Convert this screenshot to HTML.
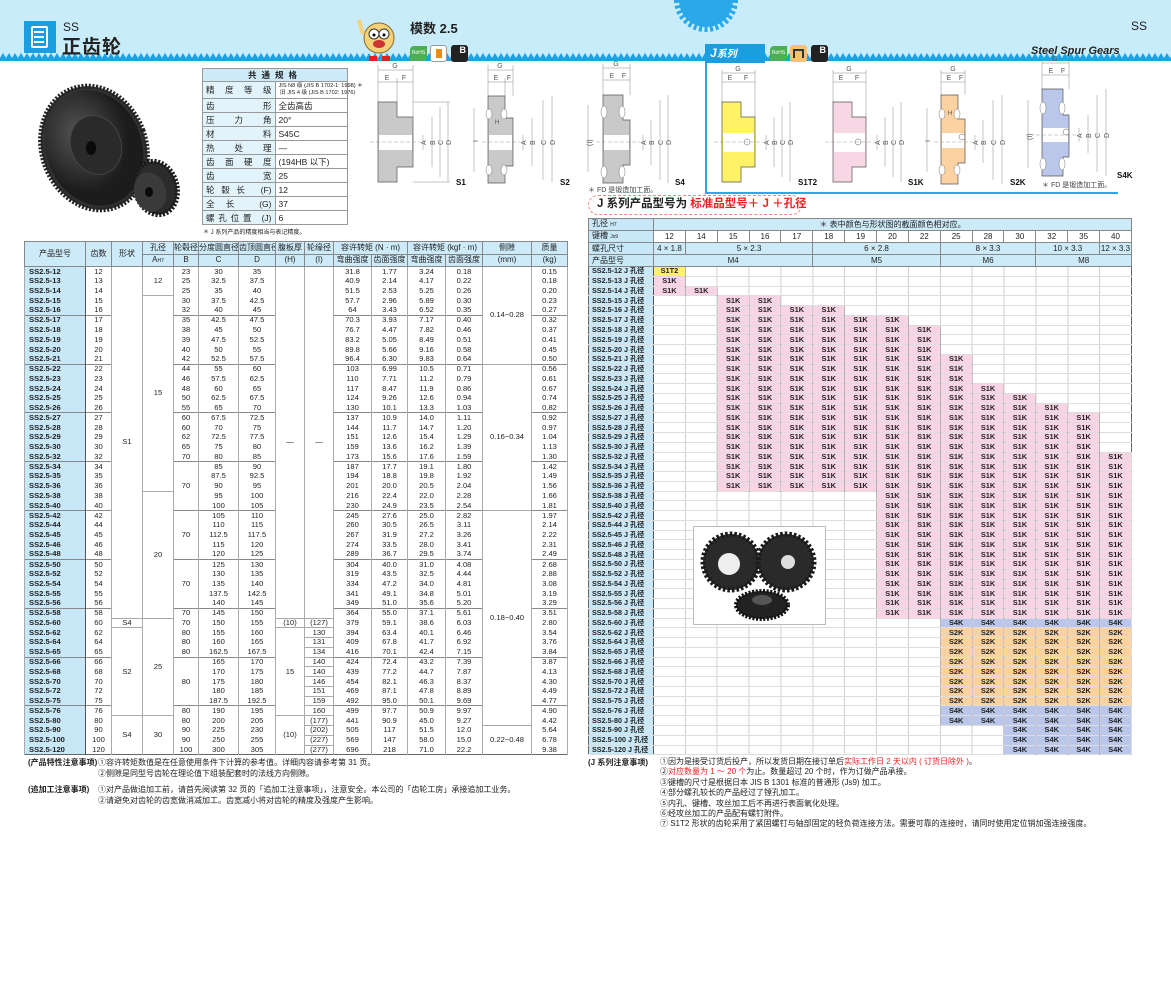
<!DOCTYPE html>
<html><head><meta charset="utf-8">
<style>
*{margin:0;padding:0;box-sizing:border-box}
body{width:1171px;height:1000px;position:relative;background:#fff;font-family:"Liberation Sans","Noto Sans CJK SC",sans-serif;color:#222;overflow:hidden}
.a{position:absolute;white-space:nowrap}
table{border-collapse:collapse;table-layout:fixed;position:absolute}
.lt{left:24px;top:241px;width:543px;font-size:7.6px;border:1.5px solid #666}
.lt td{padding:0;text-align:center;line-height:8px;border-left:1px solid #aaa;border-right:1px solid #aaa;height:9.78px;overflow:hidden;white-space:nowrap}
.lt thead td{background:#cdeaf8;border:1px solid #888;font-size:8px;height:12.5px}
.lt td.m{background:#c8e8f8;font-weight:bold;text-align:left;padding-left:4px;border-right:1.5px solid #555}
.lt tr.g td{border-top:1px solid #888}
.lt td.bt{border-top:1px solid #aaa}
.lt td.bb{border-bottom:1px solid #aaa}
.rt{left:588px;top:218px;width:543px;font-size:7.4px;border:1.5px solid #666}
.rt td,.rt th{padding:0;text-align:center;line-height:8px;height:9.78px;overflow:hidden;white-space:nowrap;border-bottom:1px solid #ddd}
.rt th{background:#c8e8f8;font-weight:bold;text-align:left;padding-left:3px;border-right:1.5px solid #555;font-size:7.2px}
.rt thead td,.rt thead th{height:12px;border:1px solid #888;font-size:8px}
.rt thead th{font-weight:normal}
.rt thead td.hb{background:#cdeaf8}
.rt tr.g td,.rt tr.g th{border-top:1.5px solid #777}
.p,.y,.o,.b{font-weight:bold;border:1px solid rgba(0,0,0,.13)!important}
.p{background:#f8d4e4}.y{background:#fff266}.o{background:#fcd2a0}.b{background:#bac7ea}
.sp{left:202px;top:68px;width:146px;font-size:8.5px;border:1.5px solid #666}
.sp td{border:1px solid #999;height:14px;padding:0 3px;white-space:nowrap}
.sp td.l{background:#e3f3fb;text-align:justify;text-align-last:justify;width:54px}
.n{font-size:8px;line-height:11px}
</style></head><body>

<div class="a" style="left:0;top:0;width:1171px;height:58px;background:#c9ecfb"></div>
<svg class="a" style="left:0;top:52px" width="1171" height="12">
<defs><pattern id="zz" width="6" height="6" patternUnits="userSpaceOnUse"><polygon points="0,6 3,1 6,6" fill="#1aa3e6"/></pattern></defs>
<rect x="0" y="0" width="1171" height="6" fill="url(#zz)"/><rect x="0" y="6" width="1171" height="3" fill="#1aa3e6"/></svg>
<svg class="a" style="left:664px;top:0" width="84" height="34"><circle cx="42" cy="0" r="27" fill="#2aa8ea"/><circle cx="42" cy="0" r="29" fill="none" stroke="#2aa8ea" stroke-width="6" stroke-dasharray="3 2.5"/></svg>
<div class="a" style="left:24px;top:21px;width:32px;height:32px;background:#1a9ee0"></div>
<div class="a" style="left:31px;top:26px;width:17px;height:22px;border:2px solid #fff;border-radius:2px"></div>
<div class="a" style="left:34px;top:31px;width:10px;height:2px;background:#fff;box-shadow:0 5px 0 #fff,0 10px 0 #fff"></div>
<div class="a" style="left:63px;top:20px;font-size:12px">SS</div>
<div class="a" style="left:62px;top:32px;font-size:19px;font-weight:bold;letter-spacing:1px">正齿轮</div>
<div class="a" style="left:410px;top:18px;font-size:13px;font-weight:bold">模数 2.5</div>
<div class="a" style="left:1131px;top:19px;font-size:12px">SS</div>
<svg class="a" style="left:355px;top:16px" width="46" height="48"><circle cx="24" cy="22" r="15" fill="#f5d27a" stroke="#8a6a20"/><circle cx="19" cy="18" r="5" fill="#fff" stroke="#333"/><circle cx="29" cy="18" r="5" fill="#fff" stroke="#333"/><circle cx="19" cy="19" r="1.5"/><circle cx="29" cy="19" r="1.5"/><ellipse cx="24" cy="28" rx="6" ry="4" fill="#c33"/><rect x="14" y="40" width="8" height="5" fill="#d22"/><rect x="27" y="40" width="8" height="5" fill="#d22"/><line x1="8" y1="18" x2="4" y2="4" stroke="#f5d27a" stroke-width="4"/></svg>
<div class="a" style="left:410px;top:46px;width:17px;height:15px;background:#4caf50;border-radius:4px 0 4px 0;font-size:5px;color:#fff;line-height:15px;text-align:center">RoHS</div>
<div class="a" style="left:430px;top:45px;width:17px;height:17px;border:1px solid #999;border-radius:3px;background:#fff"><div style="margin:3px 5px;width:6px;height:9px;background:#f08a20"></div></div>
<div class="a" style="left:451px;top:45px;width:17px;height:17px;background:#222;border-radius:3px;color:#fff;font-size:9px;font-weight:bold;text-align:right;padding-right:2px">B</div>

<svg class="a" style="left:30px;top:72px" width="160" height="152">
<defs><radialGradient id="gg" cx="40%" cy="35%"><stop offset="0" stop-color="#555"/><stop offset="1" stop-color="#1c1c1c"/></radialGradient></defs>
<ellipse cx="64" cy="76" rx="52" ry="63" fill="#333" stroke="#222" stroke-width="5" stroke-dasharray="2 1.6" transform="rotate(-20 64 76)"/>
<ellipse cx="64" cy="76" rx="48" ry="59" fill="url(#gg)" transform="rotate(-20 64 76)"/>
<ellipse cx="66" cy="73" rx="25" ry="30" fill="#2a2a2a" stroke="#444" transform="rotate(-20 66 73)"/>
<ellipse cx="61" cy="76" rx="5" ry="7" fill="#0a0a0a"/>
<ellipse cx="126" cy="116" rx="21" ry="27" fill="#2b2b2b" stroke="#1a1a1a" stroke-width="5" stroke-dasharray="2 1.6" transform="rotate(-15 126 116)"/>
<ellipse cx="120" cy="120" rx="16" ry="20" fill="#3a3a3a" transform="rotate(-15 120 120)"/>
<ellipse cx="119" cy="120" rx="4" ry="5" fill="#0a0a0a"/>
</svg>

<table class="sp">
<tr><td colspan="2" style="background:#cdeaf8;text-align:center;font-weight:bold;letter-spacing:5px;height:12px">共通规格</td></tr>
<tr><td class="l" style="height:17px">精度等级</td><td style="font-size:5.6px;line-height:7px">JIS N8 级 (JIS B 1702-1: 1998) ＊<br>&nbsp;旧 JIS 4 级 (JIS B 1702: 1976)</td></tr>
<tr><td class="l">齿形</td><td>全齿高齿</td></tr>
<tr><td class="l">压力角</td><td>20°</td></tr>
<tr><td class="l">材料</td><td>S45C</td></tr>
<tr><td class="l">热处理</td><td>—</td></tr>
<tr><td class="l">齿面硬度</td><td>(194HB 以下)</td></tr>
<tr><td class="l">齿宽</td><td>25</td></tr>
<tr><td class="l">轮毂长 (F)</td><td>12</td></tr>
<tr><td class="l">全长 (G)</td><td>37</td></tr>
<tr><td class="l">螺孔位置 (J)</td><td>6</td></tr>
</table>
<div class="a" style="left:203px;top:227px;font-size:6px">＊ J 系列产品的精度相当与表记精度。</div>

<svg class="a" style="left:0;top:0" width="1171" height="200" font-family="Liberation Sans" font-size="7" fill="#555">
<g stroke="#888" stroke-width=".5" fill="none">
<line x1="378" y1="70" x2="413" y2="70"/><line x1="378" y1="82" x2="413" y2="82"/><line x1="378" y1="65" x2="378" y2="102"/><line x1="413" y1="65" x2="413" y2="117"/><line x1="397" y1="78" x2="397" y2="102"/>
<line x1="423" y1="135" x2="423" y2="150"/><line x1="432" y1="117" x2="432" y2="167"/><line x1="440" y1="107" x2="440" y2="177"/><line x1="448" y1="102" x2="448" y2="182"/>
<line x1="413" y1="102" x2="450" y2="102"/><line x1="413" y1="182" x2="450" y2="182"/>
<line x1="488" y1="70" x2="513" y2="70"/><line x1="488" y1="82" x2="513" y2="82"/><line x1="488" y1="65" x2="488" y2="96"/><line x1="513" y1="65" x2="513" y2="96"/><line x1="505" y1="78" x2="505" y2="96"/>
<line x1="474" y1="108" x2="474" y2="172"/><line x1="523" y1="135" x2="523" y2="150"/><line x1="532" y1="118" x2="532" y2="166"/><line x1="543" y1="100" x2="543" y2="180"/><line x1="552" y1="96" x2="552" y2="182"/>
<line x1="603" y1="68" x2="630" y2="68"/><line x1="603" y1="80" x2="630" y2="80"/><line x1="603" y1="64" x2="603" y2="95"/><line x1="630" y1="64" x2="630" y2="95"/>
<line x1="588" y1="105" x2="588" y2="172"/><line x1="643" y1="135" x2="643" y2="150"/><line x1="651" y1="120" x2="651" y2="165"/><line x1="660" y1="100" x2="660" y2="180"/><line x1="668" y1="95" x2="668" y2="183"/>
<line x1="722" y1="73" x2="755" y2="73"/><line x1="722" y1="82" x2="755" y2="82"/><line x1="722" y1="70" x2="722" y2="102"/><line x1="755" y1="70" x2="755" y2="117"/>
<line x1="766" y1="135" x2="766" y2="150"/><line x1="774" y1="117" x2="774" y2="167"/><line x1="782" y1="107" x2="782" y2="177"/><line x1="790" y1="102" x2="790" y2="182"/>
<line x1="833" y1="73" x2="866" y2="73"/><line x1="833" y1="82" x2="866" y2="82"/><line x1="833" y1="70" x2="833" y2="102"/><line x1="866" y1="70" x2="866" y2="117"/>
<line x1="877" y1="135" x2="877" y2="150"/><line x1="885" y1="117" x2="885" y2="167"/><line x1="893" y1="107" x2="893" y2="177"/><line x1="901" y1="102" x2="901" y2="182"/>
<line x1="941" y1="73" x2="965" y2="73"/><line x1="941" y1="82" x2="965" y2="82"/><line x1="941" y1="70" x2="941" y2="95"/><line x1="965" y1="70" x2="965" y2="95"/>
<line x1="927" y1="108" x2="927" y2="172"/><line x1="975" y1="135" x2="975" y2="150"/><line x1="983" y1="120" x2="983" y2="163"/><line x1="993" y1="100" x2="993" y2="180"/><line x1="1002" y1="95" x2="1002" y2="184"/>
<line x1="1042" y1="63" x2="1069" y2="63"/><line x1="1042" y1="75" x2="1069" y2="75"/><line x1="1042" y1="60" x2="1042" y2="89"/><line x1="1069" y1="60" x2="1069" y2="89"/>
<line x1="1028" y1="100" x2="1028" y2="168"/><line x1="1079" y1="128" x2="1079" y2="142"/><line x1="1088" y1="115" x2="1088" y2="153"/><line x1="1097" y1="95" x2="1097" y2="172"/><line x1="1106" y1="89" x2="1106" y2="176"/>
</g>
<g stroke="#555" stroke-width=".7">
<path d="M378 102h19v15h16v50h-16v15h-19z" fill="#c9c9c9"/>
<path d="M488 96h17v22h8v48h-8v17h-17z" fill="#c9c9c9"/>
<path d="M603 95h20v25h7v45h-7v18h-20z" fill="#c9c9c9"/>
<path d="M722 102h19v15h14v50h-14v15h-19z" fill="#fff266"/>
<path d="M833 102h19v15h14v50h-14v15h-19z" fill="#f8d7e4"/>
<path d="M941 95h17v24h7v44h-7v21h-17z" fill="#fcd2a0"/>
<path d="M1042 89h21v26h6v42h-6v19h-21z" fill="#bac7ea"/>
</g>
<g fill="#fff" stroke="#777" stroke-width=".5">
<ellipse cx="489" cy="114" rx="3" ry="5"/><ellipse cx="504" cy="114" rx="3" ry="5"/><ellipse cx="489" cy="170" rx="3" ry="5"/><ellipse cx="504" cy="170" rx="3" ry="5"/>
<ellipse cx="604" cy="112" rx="3" ry="6"/><ellipse cx="622" cy="112" rx="3" ry="6"/><ellipse cx="604" cy="172" rx="3" ry="6"/><ellipse cx="622" cy="172" rx="3" ry="6"/>
<ellipse cx="942" cy="114" rx="3" ry="5"/><ellipse cx="957" cy="114" rx="3" ry="5"/><ellipse cx="942" cy="170" rx="3" ry="5"/><ellipse cx="957" cy="170" rx="3" ry="5"/>
<ellipse cx="1043" cy="108" rx="3" ry="6"/><ellipse cx="1062" cy="108" rx="3" ry="6"/><ellipse cx="1043" cy="164" rx="3" ry="6"/><ellipse cx="1062" cy="164" rx="3" ry="6"/>
</g>
<g fill="#fff"><rect x="379" y="135" width="33" height="15"/><rect x="489" y="135" width="23" height="15"/><rect x="604" y="135" width="25" height="15"/><rect x="723" y="133" width="31" height="19"/><rect x="834" y="133" width="31" height="19"/><rect x="942" y="133" width="22" height="15"/><rect x="1043" y="128" width="25" height="14"/></g>
<g fill="#fff" stroke="#555" stroke-width=".5"><circle cx="747" cy="142" r="3"/><circle cx="858" cy="142" r="3"/><circle cx="962" cy="137" r="3"/><circle cx="1066" cy="132" r="3"/></g>
<g stroke="#888" stroke-width=".4" stroke-dasharray="4 2"><line x1="370" y1="142" x2="420" y2="142"/><line x1="482" y1="142" x2="520" y2="142"/><line x1="596" y1="142" x2="640" y2="142"/><line x1="714" y1="142" x2="764" y2="142"/><line x1="825" y1="142" x2="875" y2="142"/><line x1="934" y1="142" x2="972" y2="142"/><line x1="1036" y1="135" x2="1077" y2="135"/></g>
<g text-anchor="middle">
<text x="395" y="68">G</text><text x="387" y="80">E</text><text x="404" y="80">F</text>
<text x="500" y="68">G</text><text x="496" y="80">E</text><text x="509" y="80">F</text><text x="497" y="124" font-size="6">H</text>
<text x="616" y="66">G</text><text x="612" y="78">E</text><text x="624" y="78">F</text>
<text x="738" y="71">G</text><text x="730" y="80">E</text><text x="746" y="80">F</text>
<text x="849" y="71">G</text><text x="841" y="80">E</text><text x="857" y="80">F</text>
<text x="953" y="71">G</text><text x="949" y="80">E</text><text x="961" y="80">F</text><text x="950" y="115" font-size="6">H</text>
<text x="1055" y="61">G</text><text x="1051" y="73">E</text><text x="1063" y="73">F</text>
</g>
<g font-size="7">
<text transform="translate(426,145) rotate(-90)">A</text><text transform="translate(435,145) rotate(-90)">B</text><text transform="translate(443,145) rotate(-90)">C</text><text transform="translate(451,145) rotate(-90)">D</text>
<text transform="translate(526,145) rotate(-90)">A</text><text transform="translate(535,145) rotate(-90)">B</text><text transform="translate(546,145) rotate(-90)">C</text><text transform="translate(555,145) rotate(-90)">D</text>
<text transform="translate(646,145) rotate(-90)">A</text><text transform="translate(654,145) rotate(-90)">B</text><text transform="translate(663,145) rotate(-90)">C</text><text transform="translate(671,145) rotate(-90)">D</text>
<text transform="translate(769,145) rotate(-90)">A</text><text transform="translate(777,145) rotate(-90)">B</text><text transform="translate(785,145) rotate(-90)">C</text><text transform="translate(793,145) rotate(-90)">D</text>
<text transform="translate(880,145) rotate(-90)">A</text><text transform="translate(888,145) rotate(-90)">B</text><text transform="translate(896,145) rotate(-90)">C</text><text transform="translate(904,145) rotate(-90)">D</text>
<text transform="translate(978,145) rotate(-90)">A</text><text transform="translate(986,145) rotate(-90)">B</text><text transform="translate(996,145) rotate(-90)">C</text><text transform="translate(1005,145) rotate(-90)">D</text>
<text transform="translate(1082,138) rotate(-90)">A</text><text transform="translate(1091,138) rotate(-90)">B</text><text transform="translate(1100,138) rotate(-90)">C</text><text transform="translate(1109,138) rotate(-90)">D</text>
<text transform="translate(478,142) rotate(-90)">I</text><text transform="translate(592,146) rotate(-90)">(I)</text><text transform="translate(930,142) rotate(-90)">I</text><text transform="translate(1032,140) rotate(-90)">(I)</text>
</g>
<g font-size="8" font-weight="bold" fill="#111"><text x="456" y="185">S1</text><text x="560" y="185">S2</text><text x="675" y="185">S4</text><text x="798" y="185">S1T2</text><text x="908" y="185">S1K</text><text x="1010" y="185">S2K</text><text x="1117" y="178">S4K</text></g>
</svg>
<div class="a" style="left:588px;top:185px;font-size:7px;color:#444">＊ FD 是锻造加工面。</div>
<div class="a" style="left:1042px;top:180px;font-size:7px;color:#444">＊ FD 是锻造加工面。</div>
<div class="a" style="left:705px;top:44px;width:2px;height:150px;background:#2aa8ea"></div>
<div class="a" style="left:705px;top:192px;width:413px;height:2px;background:#2aa8ea"></div>
<div class="a" style="left:705px;top:44px;width:60px;height:19px;background:#1a9ee0;color:#fff;font-style:italic;font-weight:bold;font-size:12px;line-height:19px;padding-left:5px">J<span style="font-size:10px">系列</span></div>
<div class="a" style="left:770px;top:46px;width:17px;height:15px;background:#4caf50;border-radius:4px 0 4px 0;font-size:5px;color:#fff;line-height:15px;text-align:center">RoHS</div>
<div class="a" style="left:790px;top:45px;width:17px;height:17px;background:#f8c070;border-radius:3px"><div style="margin:4px 3px;width:11px;height:9px;border:2px solid #333;border-bottom:none"></div></div>
<div class="a" style="left:811px;top:45px;width:17px;height:17px;background:#222;border-radius:3px;color:#fff;font-size:9px;font-weight:bold;text-align:right;padding-right:2px">B</div>
<div class="a" style="left:1031px;top:45px;font-size:11px;font-weight:bold;font-style:italic">Steel Spur Gears</div>

<div class="a" style="left:588px;top:195px;width:214px;height:20px;border:1.5px dashed #e88;border-radius:10px;font-size:11.5px;font-weight:bold;line-height:17px;padding-left:8px">J 系列产品型号为 <span style="color:#e22">标准品型号＋ J ＋孔径</span></div>

<table class="lt">
<colgroup><col style="width:61px"><col style="width:26px"><col style="width:31px"><col style="width:31px"><col style="width:25px"><col style="width:40px"><col style="width:37px"><col style="width:29px"><col style="width:29px"><col style="width:38px"><col style="width:36px"><col style="width:38px"><col style="width:37px"><col style="width:49px"><col style="width:36px"></colgroup>
<thead>
<tr><td rowspan="2">产品型号</td><td rowspan="2">齿数</td><td rowspan="2">形状</td><td>孔径</td><td>轮毂径</td><td>分度圆直径</td><td>齿顶圆直径</td><td>腹板厚</td><td>轮缘径</td><td colspan="2">容许转矩 (N · m)</td><td colspan="2">容许转矩 (kgf · m)</td><td>侧隙</td><td>质量</td></tr>
<tr><td>A<span style="font-size:5px">H7</span></td><td>B</td><td>C</td><td>D</td><td>(H)</td><td>(I)</td><td>弯曲强度</td><td>齿面强度</td><td>弯曲强度</td><td>齿面强度</td><td>(mm)</td><td>(kg)</td></tr>
</thead>
<tbody>
<tr><td class="m">SS2.5-12</td><td>12</td><td rowspan="36">S1</td><td rowspan="3" class="bb">12</td><td>23</td><td>30</td><td>35</td><td rowspan="36">—</td><td rowspan="36">—</td><td>31.8</td><td>1.77</td><td>3.24</td><td>0.18</td><td rowspan="10" class="bb">0.14~0.28</td><td>0.15</td></tr>
<tr><td class="m">SS2.5-13</td><td>13</td><td>25</td><td>32.5</td><td>37.5</td><td>40.9</td><td>2.14</td><td>4.17</td><td>0.22</td><td>0.18</td></tr>
<tr><td class="m">SS2.5-14</td><td>14</td><td>25</td><td>35</td><td>40</td><td>51.5</td><td>2.53</td><td>5.25</td><td>0.26</td><td>0.20</td></tr>
<tr><td class="m">SS2.5-15</td><td>15</td><td rowspan="20" class="bt bb">15</td><td>30</td><td>37.5</td><td>42.5</td><td>57.7</td><td>2.96</td><td>5.89</td><td>0.30</td><td>0.23</td></tr>
<tr><td class="m">SS2.5-16</td><td>16</td><td>32</td><td>40</td><td>45</td><td>64</td><td>3.43</td><td>6.52</td><td>0.35</td><td>0.27</td></tr>
<tr class="g"><td class="m">SS2.5-17</td><td>17</td><td>35</td><td>42.5</td><td>47.5</td><td>70.3</td><td>3.93</td><td>7.17</td><td>0.40</td><td>0.32</td></tr>
<tr><td class="m">SS2.5-18</td><td>18</td><td>38</td><td>45</td><td>50</td><td>76.7</td><td>4.47</td><td>7.82</td><td>0.46</td><td>0.37</td></tr>
<tr><td class="m">SS2.5-19</td><td>19</td><td>39</td><td>47.5</td><td>52.5</td><td>83.2</td><td>5.05</td><td>8.49</td><td>0.51</td><td>0.41</td></tr>
<tr><td class="m">SS2.5-20</td><td>20</td><td>40</td><td>50</td><td>55</td><td>89.8</td><td>5.66</td><td>9.16</td><td>0.58</td><td>0.45</td></tr>
<tr><td class="m">SS2.5-21</td><td>21</td><td>42</td><td>52.5</td><td>57.5</td><td>96.4</td><td>6.30</td><td>9.83</td><td>0.64</td><td>0.50</td></tr>
<tr class="g"><td class="m">SS2.5-22</td><td>22</td><td>44</td><td>55</td><td>60</td><td>103</td><td>6.99</td><td>10.5</td><td>0.71</td><td rowspan="15" class="bb">0.16~0.34</td><td>0.56</td></tr>
<tr><td class="m">SS2.5-23</td><td>23</td><td>46</td><td>57.5</td><td>62.5</td><td>110</td><td>7.71</td><td>11.2</td><td>0.79</td><td>0.61</td></tr>
<tr><td class="m">SS2.5-24</td><td>24</td><td>48</td><td>60</td><td>65</td><td>117</td><td>8.47</td><td>11.9</td><td>0.86</td><td>0.67</td></tr>
<tr><td class="m">SS2.5-25</td><td>25</td><td>50</td><td>62.5</td><td>67.5</td><td>124</td><td>9.26</td><td>12.6</td><td>0.94</td><td>0.74</td></tr>
<tr><td class="m">SS2.5-26</td><td>26</td><td>55</td><td>65</td><td>70</td><td>130</td><td>10.1</td><td>13.3</td><td>1.03</td><td>0.82</td></tr>
<tr class="g"><td class="m">SS2.5-27</td><td>27</td><td>60</td><td>67.5</td><td>72.5</td><td>137</td><td>10.9</td><td>14.0</td><td>1.11</td><td>0.92</td></tr>
<tr><td class="m">SS2.5-28</td><td>28</td><td>60</td><td>70</td><td>75</td><td>144</td><td>11.7</td><td>14.7</td><td>1.20</td><td>0.97</td></tr>
<tr><td class="m">SS2.5-29</td><td>29</td><td>62</td><td>72.5</td><td>77.5</td><td>151</td><td>12.6</td><td>15.4</td><td>1.29</td><td>1.04</td></tr>
<tr><td class="m">SS2.5-30</td><td>30</td><td>65</td><td>75</td><td>80</td><td>159</td><td>13.6</td><td>16.2</td><td>1.39</td><td>1.13</td></tr>
<tr><td class="m">SS2.5-32</td><td>32</td><td>70</td><td>80</td><td>85</td><td>173</td><td>15.6</td><td>17.6</td><td>1.59</td><td>1.30</td></tr>
<tr class="g"><td class="m">SS2.5-34</td><td>34</td><td rowspan="5">70</td><td>85</td><td>90</td><td>187</td><td>17.7</td><td>19.1</td><td>1.80</td><td>1.42</td></tr>
<tr><td class="m">SS2.5-35</td><td>35</td><td>87.5</td><td>92.5</td><td>194</td><td>18.8</td><td>19.8</td><td>1.92</td><td>1.49</td></tr>
<tr><td class="m">SS2.5-36</td><td>36</td><td>90</td><td>95</td><td>201</td><td>20.0</td><td>20.5</td><td>2.04</td><td>1.56</td></tr>
<tr><td class="m">SS2.5-38</td><td>38</td><td rowspan="13" class="bt">20</td><td>95</td><td>100</td><td>216</td><td>22.4</td><td>22.0</td><td>2.28</td><td>1.66</td></tr>
<tr><td class="m">SS2.5-40</td><td>40</td><td>100</td><td>105</td><td>230</td><td>24.9</td><td>23.5</td><td>2.54</td><td>1.81</td></tr>
<tr class="g"><td class="m">SS2.5-42</td><td>42</td><td rowspan="5">70</td><td>105</td><td>110</td><td>245</td><td>27.6</td><td>25.0</td><td>2.82</td><td rowspan="22">0.18~0.40</td><td>1.97</td></tr>
<tr><td class="m">SS2.5-44</td><td>44</td><td>110</td><td>115</td><td>260</td><td>30.5</td><td>26.5</td><td>3.11</td><td>2.14</td></tr>
<tr><td class="m">SS2.5-45</td><td>45</td><td>112.5</td><td>117.5</td><td>267</td><td>31.9</td><td>27.2</td><td>3.26</td><td>2.22</td></tr>
<tr><td class="m">SS2.5-46</td><td>46</td><td>115</td><td>120</td><td>274</td><td>33.5</td><td>28.0</td><td>3.41</td><td>2.31</td></tr>
<tr><td class="m">SS2.5-48</td><td>48</td><td>120</td><td>125</td><td>289</td><td>36.7</td><td>29.5</td><td>3.74</td><td>2.49</td></tr>
<tr class="g"><td class="m">SS2.5-50</td><td>50</td><td rowspan="5">70</td><td>125</td><td>130</td><td>304</td><td>40.0</td><td>31.0</td><td>4.08</td><td>2.68</td></tr>
<tr><td class="m">SS2.5-52</td><td>52</td><td>130</td><td>135</td><td>319</td><td>43.5</td><td>32.5</td><td>4.44</td><td>2.88</td></tr>
<tr><td class="m">SS2.5-54</td><td>54</td><td>135</td><td>140</td><td>334</td><td>47.2</td><td>34.0</td><td>4.81</td><td>3.08</td></tr>
<tr><td class="m">SS2.5-55</td><td>55</td><td>137.5</td><td>142.5</td><td>341</td><td>49.1</td><td>34.8</td><td>5.01</td><td>3.19</td></tr>
<tr><td class="m">SS2.5-56</td><td>56</td><td>140</td><td>145</td><td>349</td><td>51.0</td><td>35.6</td><td>5.20</td><td>3.29</td></tr>
<tr class="g"><td class="m">SS2.5-58</td><td>58</td><td>70</td><td>145</td><td>150</td><td>364</td><td>55.0</td><td>37.1</td><td>5.61</td><td>3.51</td></tr>
<tr><td class="m">SS2.5-60</td><td>60</td><td class="bt bb">S4</td><td rowspan="10" class="bt">25</td><td>70</td><td>150</td><td>155</td><td class="bt bb">(10)</td><td class="bt bb">(127)</td><td>379</td><td>59.1</td><td>38.6</td><td>6.03</td><td>2.80</td></tr>
<tr><td class="m">SS2.5-62</td><td>62</td><td rowspan="9">S2</td><td>80</td><td>155</td><td>160</td><td rowspan="9">15</td><td class="bb">130</td><td>394</td><td>63.4</td><td>40.1</td><td>6.46</td><td>3.54</td></tr>
<tr><td class="m">SS2.5-64</td><td>64</td><td>80</td><td>160</td><td>165</td><td class="bb">131</td><td>409</td><td>67.8</td><td>41.7</td><td>6.92</td><td>3.76</td></tr>
<tr><td class="m">SS2.5-65</td><td>65</td><td>80</td><td>162.5</td><td>167.5</td><td class="bb">134</td><td>416</td><td>70.1</td><td>42.4</td><td>7.15</td><td>3.84</td></tr>
<tr class="g"><td class="m">SS2.5-66</td><td>66</td><td rowspan="5">80</td><td>165</td><td>170</td><td class="bb">140</td><td>424</td><td>72.4</td><td>43.2</td><td>7.39</td><td>3.87</td></tr>
<tr><td class="m">SS2.5-68</td><td>68</td><td>170</td><td>175</td><td class="bb">140</td><td>439</td><td>77.2</td><td>44.7</td><td>7.87</td><td>4.13</td></tr>
<tr><td class="m">SS2.5-70</td><td>70</td><td>175</td><td>180</td><td class="bb">146</td><td>454</td><td>82.1</td><td>46.3</td><td>8.37</td><td>4.30</td></tr>
<tr><td class="m">SS2.5-72</td><td>72</td><td>180</td><td>185</td><td class="bb">151</td><td>469</td><td>87.1</td><td>47.8</td><td>8.89</td><td>4.49</td></tr>
<tr><td class="m">SS2.5-75</td><td>75</td><td>187.5</td><td>192.5</td><td class="bb">159</td><td>492</td><td>95.0</td><td>50.1</td><td>9.69</td><td>4.77</td></tr>
<tr class="g"><td class="m">SS2.5-76</td><td>76</td><td>80</td><td>190</td><td>195</td><td class="bb">160</td><td>499</td><td>97.7</td><td>50.9</td><td>9.97</td><td>4.90</td></tr>
<tr><td class="m">SS2.5-80</td><td>80</td><td rowspan="4" class="bt">S4</td><td rowspan="4" class="bt">30</td><td>80</td><td>200</td><td>205</td><td rowspan="4" class="bt">(10)</td><td class="bb">(177)</td><td>441</td><td>90.9</td><td>45.0</td><td>9.27</td><td>4.42</td></tr>
<tr><td class="m">SS2.5-90</td><td>90</td><td>90</td><td>225</td><td>230</td><td class="bb">(202)</td><td>505</td><td>117</td><td>51.5</td><td>12.0</td><td rowspan="3" class="bt">0.22~0.48</td><td>5.64</td></tr>
<tr><td class="m">SS2.5-100</td><td>100</td><td>90</td><td>250</td><td>255</td><td class="bb">(227)</td><td>569</td><td>147</td><td>58.0</td><td>15.0</td><td>6.78</td></tr>
<tr><td class="m">SS2.5-120</td><td>120</td><td>100</td><td>300</td><td>305</td><td>(277)</td><td>696</td><td>218</td><td>71.0</td><td>22.2</td><td>9.38</td></tr>
</tbody></table>

<div class="a" style="left:653px;top:265px;width:478px;height:490px;background:repeating-linear-gradient(to right,#d0d0d0 0 1px,transparent 1px 31.87px)"></div>
<table class="rt">
<colgroup><col style="width:65px"><col span="15" style="width:31.87px"></colgroup>
<thead>
<tr><th>孔径 <span style="font-size:5px">H7</span></th><td colspan="15" class="hb">＊ 表中颜色与形状图的截面颜色相对应。</td></tr>
<tr><th style="background:#c8e8f8">键槽 <span style="font-size:5px">Js9</span></th><td>12</td><td>14</td><td>15</td><td>16</td><td>17</td><td>18</td><td>19</td><td>20</td><td>22</td><td>25</td><td>28</td><td>30</td><td>32</td><td>35</td><td>40</td></tr>
<tr><th style="background:#c8e8f8">螺孔尺寸</th><td class="hb">4 × 1.8</td><td colspan="4" class="hb">5 × 2.3</td><td colspan="4" class="hb">6 × 2.8</td><td colspan="3" class="hb">8 × 3.3</td><td colspan="2" class="hb">10 × 3.3</td><td class="hb">12 × 3.3</td></tr>
<tr><th style="background:#c8e8f8">产品型号</th><td colspan="5" class="hb">M4</td><td colspan="4" class="hb">M5</td><td colspan="3" class="hb">M6</td><td colspan="3" class="hb">M8</td></tr>
</thead>
<tbody>
<tr><th>SS2.5-12 J 孔径</th><td class="y">S1T2</td><td colspan="14"></td></tr>
<tr><th>SS2.5-13 J 孔径</th><td class="p">S1K</td><td colspan="14"></td></tr>
<tr><th>SS2.5-14 J 孔径</th><td class="p">S1K</td><td class="p">S1K</td><td colspan="13"></td></tr>
<tr><th>SS2.5-15 J 孔径</th><td colspan="2"></td><td class="p">S1K</td><td class="p">S1K</td><td colspan="11"></td></tr>
<tr><th>SS2.5-16 J 孔径</th><td colspan="2"></td><td class="p">S1K</td><td class="p">S1K</td><td class="p">S1K</td><td class="p">S1K</td><td colspan="9"></td></tr>
<tr class="g"><th>SS2.5-17 J 孔径</th><td colspan="2"></td><td class="p">S1K</td><td class="p">S1K</td><td class="p">S1K</td><td class="p">S1K</td><td class="p">S1K</td><td class="p">S1K</td><td colspan="7"></td></tr>
<tr><th>SS2.5-18 J 孔径</th><td colspan="2"></td><td class="p">S1K</td><td class="p">S1K</td><td class="p">S1K</td><td class="p">S1K</td><td class="p">S1K</td><td class="p">S1K</td><td class="p">S1K</td><td colspan="6"></td></tr>
<tr><th>SS2.5-19 J 孔径</th><td colspan="2"></td><td class="p">S1K</td><td class="p">S1K</td><td class="p">S1K</td><td class="p">S1K</td><td class="p">S1K</td><td class="p">S1K</td><td class="p">S1K</td><td colspan="6"></td></tr>
<tr><th>SS2.5-20 J 孔径</th><td colspan="2"></td><td class="p">S1K</td><td class="p">S1K</td><td class="p">S1K</td><td class="p">S1K</td><td class="p">S1K</td><td class="p">S1K</td><td class="p">S1K</td><td colspan="6"></td></tr>
<tr><th>SS2.5-21 J 孔径</th><td colspan="2"></td><td class="p">S1K</td><td class="p">S1K</td><td class="p">S1K</td><td class="p">S1K</td><td class="p">S1K</td><td class="p">S1K</td><td class="p">S1K</td><td class="p">S1K</td><td colspan="5"></td></tr>
<tr class="g"><th>SS2.5-22 J 孔径</th><td colspan="2"></td><td class="p">S1K</td><td class="p">S1K</td><td class="p">S1K</td><td class="p">S1K</td><td class="p">S1K</td><td class="p">S1K</td><td class="p">S1K</td><td class="p">S1K</td><td colspan="5"></td></tr>
<tr><th>SS2.5-23 J 孔径</th><td colspan="2"></td><td class="p">S1K</td><td class="p">S1K</td><td class="p">S1K</td><td class="p">S1K</td><td class="p">S1K</td><td class="p">S1K</td><td class="p">S1K</td><td class="p">S1K</td><td colspan="5"></td></tr>
<tr><th>SS2.5-24 J 孔径</th><td colspan="2"></td><td class="p">S1K</td><td class="p">S1K</td><td class="p">S1K</td><td class="p">S1K</td><td class="p">S1K</td><td class="p">S1K</td><td class="p">S1K</td><td class="p">S1K</td><td class="p">S1K</td><td colspan="4"></td></tr>
<tr><th>SS2.5-25 J 孔径</th><td colspan="2"></td><td class="p">S1K</td><td class="p">S1K</td><td class="p">S1K</td><td class="p">S1K</td><td class="p">S1K</td><td class="p">S1K</td><td class="p">S1K</td><td class="p">S1K</td><td class="p">S1K</td><td class="p">S1K</td><td colspan="3"></td></tr>
<tr><th>SS2.5-26 J 孔径</th><td colspan="2"></td><td class="p">S1K</td><td class="p">S1K</td><td class="p">S1K</td><td class="p">S1K</td><td class="p">S1K</td><td class="p">S1K</td><td class="p">S1K</td><td class="p">S1K</td><td class="p">S1K</td><td class="p">S1K</td><td class="p">S1K</td><td colspan="2"></td></tr>
<tr class="g"><th>SS2.5-27 J 孔径</th><td colspan="2"></td><td class="p">S1K</td><td class="p">S1K</td><td class="p">S1K</td><td class="p">S1K</td><td class="p">S1K</td><td class="p">S1K</td><td class="p">S1K</td><td class="p">S1K</td><td class="p">S1K</td><td class="p">S1K</td><td class="p">S1K</td><td class="p">S1K</td><td></td></tr>
<tr><th>SS2.5-28 J 孔径</th><td colspan="2"></td><td class="p">S1K</td><td class="p">S1K</td><td class="p">S1K</td><td class="p">S1K</td><td class="p">S1K</td><td class="p">S1K</td><td class="p">S1K</td><td class="p">S1K</td><td class="p">S1K</td><td class="p">S1K</td><td class="p">S1K</td><td class="p">S1K</td><td></td></tr>
<tr><th>SS2.5-29 J 孔径</th><td colspan="2"></td><td class="p">S1K</td><td class="p">S1K</td><td class="p">S1K</td><td class="p">S1K</td><td class="p">S1K</td><td class="p">S1K</td><td class="p">S1K</td><td class="p">S1K</td><td class="p">S1K</td><td class="p">S1K</td><td class="p">S1K</td><td class="p">S1K</td><td></td></tr>
<tr><th>SS2.5-30 J 孔径</th><td colspan="2"></td><td class="p">S1K</td><td class="p">S1K</td><td class="p">S1K</td><td class="p">S1K</td><td class="p">S1K</td><td class="p">S1K</td><td class="p">S1K</td><td class="p">S1K</td><td class="p">S1K</td><td class="p">S1K</td><td class="p">S1K</td><td class="p">S1K</td><td></td></tr>
<tr><th>SS2.5-32 J 孔径</th><td colspan="2"></td><td class="p">S1K</td><td class="p">S1K</td><td class="p">S1K</td><td class="p">S1K</td><td class="p">S1K</td><td class="p">S1K</td><td class="p">S1K</td><td class="p">S1K</td><td class="p">S1K</td><td class="p">S1K</td><td class="p">S1K</td><td class="p">S1K</td><td class="p">S1K</td></tr>
<tr class="g"><th>SS2.5-34 J 孔径</th><td colspan="2"></td><td class="p">S1K</td><td class="p">S1K</td><td class="p">S1K</td><td class="p">S1K</td><td class="p">S1K</td><td class="p">S1K</td><td class="p">S1K</td><td class="p">S1K</td><td class="p">S1K</td><td class="p">S1K</td><td class="p">S1K</td><td class="p">S1K</td><td class="p">S1K</td></tr>
<tr><th>SS2.5-35 J 孔径</th><td colspan="2"></td><td class="p">S1K</td><td class="p">S1K</td><td class="p">S1K</td><td class="p">S1K</td><td class="p">S1K</td><td class="p">S1K</td><td class="p">S1K</td><td class="p">S1K</td><td class="p">S1K</td><td class="p">S1K</td><td class="p">S1K</td><td class="p">S1K</td><td class="p">S1K</td></tr>
<tr><th>SS2.5-36 J 孔径</th><td colspan="2"></td><td class="p">S1K</td><td class="p">S1K</td><td class="p">S1K</td><td class="p">S1K</td><td class="p">S1K</td><td class="p">S1K</td><td class="p">S1K</td><td class="p">S1K</td><td class="p">S1K</td><td class="p">S1K</td><td class="p">S1K</td><td class="p">S1K</td><td class="p">S1K</td></tr>
<tr><th>SS2.5-38 J 孔径</th><td colspan="7"></td><td class="p">S1K</td><td class="p">S1K</td><td class="p">S1K</td><td class="p">S1K</td><td class="p">S1K</td><td class="p">S1K</td><td class="p">S1K</td><td class="p">S1K</td></tr>
<tr><th>SS2.5-40 J 孔径</th><td colspan="7"></td><td class="p">S1K</td><td class="p">S1K</td><td class="p">S1K</td><td class="p">S1K</td><td class="p">S1K</td><td class="p">S1K</td><td class="p">S1K</td><td class="p">S1K</td></tr>
<tr class="g"><th>SS2.5-42 J 孔径</th><td colspan="7"></td><td class="p">S1K</td><td class="p">S1K</td><td class="p">S1K</td><td class="p">S1K</td><td class="p">S1K</td><td class="p">S1K</td><td class="p">S1K</td><td class="p">S1K</td></tr>
<tr><th>SS2.5-44 J 孔径</th><td colspan="7"></td><td class="p">S1K</td><td class="p">S1K</td><td class="p">S1K</td><td class="p">S1K</td><td class="p">S1K</td><td class="p">S1K</td><td class="p">S1K</td><td class="p">S1K</td></tr>
<tr><th>SS2.5-45 J 孔径</th><td colspan="7"></td><td class="p">S1K</td><td class="p">S1K</td><td class="p">S1K</td><td class="p">S1K</td><td class="p">S1K</td><td class="p">S1K</td><td class="p">S1K</td><td class="p">S1K</td></tr>
<tr><th>SS2.5-46 J 孔径</th><td colspan="7"></td><td class="p">S1K</td><td class="p">S1K</td><td class="p">S1K</td><td class="p">S1K</td><td class="p">S1K</td><td class="p">S1K</td><td class="p">S1K</td><td class="p">S1K</td></tr>
<tr><th>SS2.5-48 J 孔径</th><td colspan="7"></td><td class="p">S1K</td><td class="p">S1K</td><td class="p">S1K</td><td class="p">S1K</td><td class="p">S1K</td><td class="p">S1K</td><td class="p">S1K</td><td class="p">S1K</td></tr>
<tr class="g"><th>SS2.5-50 J 孔径</th><td colspan="7"></td><td class="p">S1K</td><td class="p">S1K</td><td class="p">S1K</td><td class="p">S1K</td><td class="p">S1K</td><td class="p">S1K</td><td class="p">S1K</td><td class="p">S1K</td></tr>
<tr><th>SS2.5-52 J 孔径</th><td colspan="7"></td><td class="p">S1K</td><td class="p">S1K</td><td class="p">S1K</td><td class="p">S1K</td><td class="p">S1K</td><td class="p">S1K</td><td class="p">S1K</td><td class="p">S1K</td></tr>
<tr><th>SS2.5-54 J 孔径</th><td colspan="7"></td><td class="p">S1K</td><td class="p">S1K</td><td class="p">S1K</td><td class="p">S1K</td><td class="p">S1K</td><td class="p">S1K</td><td class="p">S1K</td><td class="p">S1K</td></tr>
<tr><th>SS2.5-55 J 孔径</th><td colspan="7"></td><td class="p">S1K</td><td class="p">S1K</td><td class="p">S1K</td><td class="p">S1K</td><td class="p">S1K</td><td class="p">S1K</td><td class="p">S1K</td><td class="p">S1K</td></tr>
<tr><th>SS2.5-56 J 孔径</th><td colspan="7"></td><td class="p">S1K</td><td class="p">S1K</td><td class="p">S1K</td><td class="p">S1K</td><td class="p">S1K</td><td class="p">S1K</td><td class="p">S1K</td><td class="p">S1K</td></tr>
<tr class="g"><th>SS2.5-58 J 孔径</th><td colspan="7"></td><td class="p">S1K</td><td class="p">S1K</td><td class="p">S1K</td><td class="p">S1K</td><td class="p">S1K</td><td class="p">S1K</td><td class="p">S1K</td><td class="p">S1K</td></tr>
<tr><th>SS2.5-60 J 孔径</th><td colspan="9"></td><td class="b">S4K</td><td class="b">S4K</td><td class="b">S4K</td><td class="b">S4K</td><td class="b">S4K</td><td class="b">S4K</td></tr>
<tr><th>SS2.5-62 J 孔径</th><td colspan="9"></td><td class="o">S2K</td><td class="o">S2K</td><td class="o">S2K</td><td class="o">S2K</td><td class="o">S2K</td><td class="o">S2K</td></tr>
<tr><th>SS2.5-64 J 孔径</th><td colspan="9"></td><td class="o">S2K</td><td class="o">S2K</td><td class="o">S2K</td><td class="o">S2K</td><td class="o">S2K</td><td class="o">S2K</td></tr>
<tr><th>SS2.5-65 J 孔径</th><td colspan="9"></td><td class="o">S2K</td><td class="o">S2K</td><td class="o">S2K</td><td class="o">S2K</td><td class="o">S2K</td><td class="o">S2K</td></tr>
<tr class="g"><th>SS2.5-66 J 孔径</th><td colspan="9"></td><td class="o">S2K</td><td class="o">S2K</td><td class="o">S2K</td><td class="o">S2K</td><td class="o">S2K</td><td class="o">S2K</td></tr>
<tr><th>SS2.5-68 J 孔径</th><td colspan="9"></td><td class="o">S2K</td><td class="o">S2K</td><td class="o">S2K</td><td class="o">S2K</td><td class="o">S2K</td><td class="o">S2K</td></tr>
<tr><th>SS2.5-70 J 孔径</th><td colspan="9"></td><td class="o">S2K</td><td class="o">S2K</td><td class="o">S2K</td><td class="o">S2K</td><td class="o">S2K</td><td class="o">S2K</td></tr>
<tr><th>SS2.5-72 J 孔径</th><td colspan="9"></td><td class="o">S2K</td><td class="o">S2K</td><td class="o">S2K</td><td class="o">S2K</td><td class="o">S2K</td><td class="o">S2K</td></tr>
<tr><th>SS2.5-75 J 孔径</th><td colspan="9"></td><td class="o">S2K</td><td class="o">S2K</td><td class="o">S2K</td><td class="o">S2K</td><td class="o">S2K</td><td class="o">S2K</td></tr>
<tr class="g"><th>SS2.5-76 J 孔径</th><td colspan="9"></td><td class="b">S4K</td><td class="b">S4K</td><td class="b">S4K</td><td class="b">S4K</td><td class="b">S4K</td><td class="b">S4K</td></tr>
<tr><th>SS2.5-80 J 孔径</th><td colspan="9"></td><td class="b">S4K</td><td class="b">S4K</td><td class="b">S4K</td><td class="b">S4K</td><td class="b">S4K</td><td class="b">S4K</td></tr>
<tr><th>SS2.5-90 J 孔径</th><td colspan="11"></td><td class="b">S4K</td><td class="b">S4K</td><td class="b">S4K</td><td class="b">S4K</td></tr>
<tr><th>SS2.5-100 J 孔径</th><td colspan="11"></td><td class="b">S4K</td><td class="b">S4K</td><td class="b">S4K</td><td class="b">S4K</td></tr>
<tr><th>SS2.5-120 J 孔径</th><td colspan="11"></td><td class="b">S4K</td><td class="b">S4K</td><td class="b">S4K</td><td class="b">S4K</td></tr>
</tbody></table>

<div class="a" style="left:693px;top:526px;width:133px;height:99px;background:#fff;border:1px solid #bbb"></div>
<svg class="a" style="left:693px;top:526px" width="133" height="99">
<circle cx="38" cy="36" r="28" fill="#2a2a2a" stroke="#1a1a1a" stroke-width="5" stroke-dasharray="2.5 2"/><circle cx="36" cy="38" r="11" fill="#eee"/>
<circle cx="93" cy="36" r="28" fill="#2a2a2a" stroke="#1a1a1a" stroke-width="5" stroke-dasharray="2.5 2"/><circle cx="95" cy="36" r="7" fill="#ddd"/>
<ellipse cx="69" cy="79" rx="26" ry="14" fill="#222" stroke="#111" stroke-width="4" stroke-dasharray="2 1.6"/><ellipse cx="69" cy="74" rx="10" ry="5" fill="#555"/>
</svg>

<div class="a n" style="left:28px;top:757px;font-weight:bold">(产品特性注意事项)</div>
<div class="a n" style="left:98px;top:757px">①容许转矩数值是在任意使用条件下计算的参考值。详细内容请参考第 31 页。<br>②侧隙是同型号齿轮在理论值下组装配套时的法线方向侧隙。</div>
<div class="a n" style="left:28px;top:784px;font-weight:bold">(追加工注意事项)</div>
<div class="a n" style="left:98px;top:784px">①对产品做追加工前，请首先阅读第 32 页的「追加工注意事项」，注意安全。本公司的「齿轮工房」承接追加工业务。<br>②请避免对齿轮的齿宽做消减加工。齿宽减小将对齿轮的精度及强度产生影响。</div>
<div class="a n" style="left:588px;top:757px;font-weight:bold">(J 系列注意事项)</div>
<div class="a n" style="left:660px;top:757px;line-height:10.4px">①因为是接受订货后投产，所以发货日期在接订单后<span style="color:#e22">实际工作日 2 天以内 ( 订货日除外 )</span>。<br>②<span style="color:#e22">对应数量为 1 ～ 20 个</span>为止。数量超过 20 个时，作为订做产品承接。<br>③键槽的尺寸是根据日本 JIS B 1301 标准的普通形 (Js9) 加工。<br>④部分螺孔较长的产品经过了镗孔加工。<br>⑤内孔、键槽、攻丝加工后不再进行表面氧化处理。<br>⑥经攻丝加工的产品配有螺钉附件。<br>⑦ S1T2 形状的齿轮采用了紧固螺钉与轴部固定的轻负荷连接方法。需要可靠的连接时，请同时使用定位销加强连接强度。</div>
</body></html>
